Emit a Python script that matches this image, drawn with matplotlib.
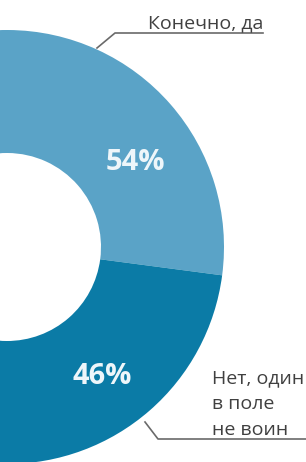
import matplotlib
matplotlib.use("Agg")
import matplotlib.pyplot as plt

labels = ["Конечно, да", "Нет, один\nв поле\nне воин"]
values = [54, 46]
pct_labels = ["54%", "46%"]
colors = ["#5aa3c7", "#0b7ba6"]

W, H = 306, 462
fig = plt.figure(figsize=(W / 100, H / 100), dpi=100)
fig.patch.set_facecolor("white")
ax = fig.add_axes([7 / W, 0, (W - 7) / W, 1])

cx, cy = 7, H - 247
R, r = 217, 94
ax.pie(values, colors=colors, startangle=-7.5, counterclock=True,
       center=(cx, cy), radius=R,
       wedgeprops=dict(width=R - r, linewidth=0))
ax.set_xlim(7, W)
ax.set_ylim(0, H)
ax.set_aspect("auto")
ax.axis("off")

font = "Open Sans"
tc = "#404040"
# percentage labels
ax.text(135, H - 162, pct_labels[0], color="#eef6fa", fontsize=21, fontweight="bold",
        family=font, ha="center", va="center")
ax.text(102, H - 376, pct_labels[1], color="#eef6fa", fontsize=21, fontweight="bold",
        family=font, ha="center", va="center")

# category labels
ax.text(263, H - 28, labels[0], color=tc, fontsize=14, family=font,
        ha="right", va="baseline")
lines = labels[1].split("\n")
for i, ln in enumerate(lines):
    ax.text(212, H - (383 + 26 * i), ln, color=tc, fontsize=14, family=font,
            ha="left", va="baseline", clip_on=False)

lc = "#6a6a6a"
ax.plot([97, 115, 263], [H - 48, H - 33, H - 33], color=lc, lw=1.2, clip_on=False)
ax.plot([145, 158, 306], [H - 422, H - 439, H - 439], color=lc, lw=1.2, clip_on=False)

fig.savefig("out.png", dpi=100, facecolor="white")
